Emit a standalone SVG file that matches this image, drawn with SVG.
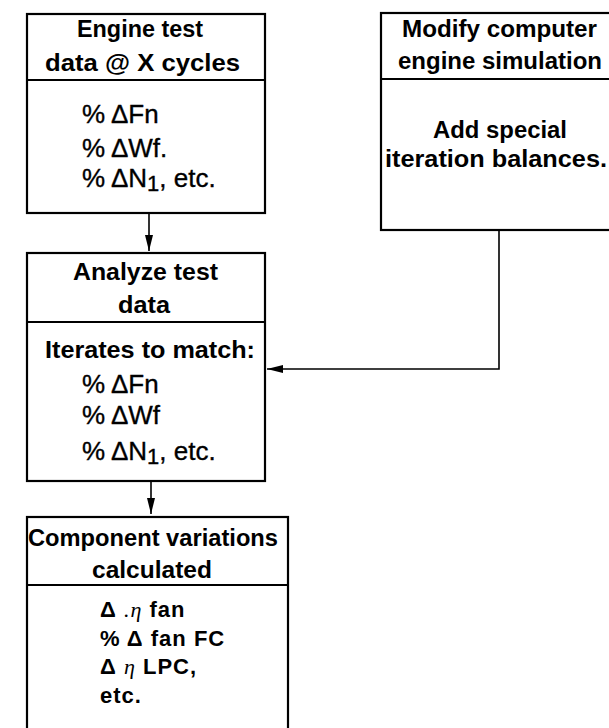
<svg xmlns="http://www.w3.org/2000/svg" width="609" height="728" viewBox="0 0 609 728">
<style>
.box{fill:#fff;stroke:#000;stroke-width:2.2}
.div{stroke:#000;stroke-width:2}
.h{font-family:"Liberation Sans",Arial,sans-serif;font-weight:bold;font-size:23px;fill:#000}
.k{font-size:22px;letter-spacing:1px}
.b{font-family:"Liberation Sans",Arial,sans-serif;font-weight:normal;font-size:26px;fill:#000;stroke:#000;stroke-width:0.35}
.s{font-size:22px}
.g{font-family:"Liberation Serif",serif;font-style:italic;font-weight:normal}
.con{fill:none;stroke:#000;stroke-width:1.6}
</style>
<defs>
<marker id="ah" viewBox="0 0 16 8" refX="16" refY="4" markerWidth="16" markerHeight="8" markerUnits="userSpaceOnUse" orient="auto">
<path d="M0,0 L16,4 L0,8 Z" fill="#000"/>
</marker>
</defs>
<rect width="609" height="728" fill="#fff"/>
<g id="connectors">
<line class="con" x1="149" y1="213" x2="149" y2="251" marker-end="url(#ah)"/>
<polyline class="con" points="499,230 499,369 267,369" marker-end="url(#ah)"/>
<line class="con" x1="151" y1="481" x2="151" y2="514" marker-end="url(#ah)"/>
</g>
<g id="engine-test">
<rect class="box" x="27" y="14" width="238" height="199"/>
<line class="div" x1="27" y1="80" x2="265" y2="80"/>
<text class="h" x="77" y="37" textLength="126" lengthAdjust="spacingAndGlyphs">Engine test</text>
<text class="h" x="45" y="71" textLength="195" lengthAdjust="spacingAndGlyphs">data @ X cycles</text>
<text class="b" x="82" y="123">% ΔFn</text>
<text class="b" x="82" y="157">% ΔWf.</text>
<text class="b" x="82" y="187">% ΔN<tspan class="s" dy="4">1</tspan><tspan dy="-4">, etc.</tspan></text>
</g>
<g id="modify-sim">
<rect class="box" x="381" y="13" width="240" height="217"/>
<line class="div" x1="381" y1="79" x2="609" y2="79"/>
<text class="h" x="402" y="37" textLength="195" lengthAdjust="spacingAndGlyphs">Modify computer</text>
<text class="h" x="398" y="69" textLength="204" lengthAdjust="spacingAndGlyphs">engine simulation</text>
<text class="h" x="433" y="138" textLength="134" lengthAdjust="spacingAndGlyphs">Add special</text>
<text class="h" x="385" y="167" textLength="222" lengthAdjust="spacingAndGlyphs">iteration balances.</text>
</g>
<g id="analyze">
<rect class="box" x="27" y="253" width="238" height="228"/>
<line class="div" x1="27" y1="322" x2="265" y2="322"/>
<text class="h" x="73" y="280" textLength="145" lengthAdjust="spacingAndGlyphs">Analyze test</text>
<text class="h" x="118" y="313" textLength="52" lengthAdjust="spacingAndGlyphs">data</text>
<text class="h" x="45" y="358" textLength="210" lengthAdjust="spacingAndGlyphs">Iterates to match:</text>
<text class="b" x="82" y="393">% ΔFn</text>
<text class="b" x="82" y="424">% ΔWf</text>
<text class="b" x="82" y="460">% ΔN<tspan class="s" dy="4">1</tspan><tspan dy="-4">, etc.</tspan></text>
</g>
<g id="component">
<rect class="box" x="27" y="517" width="261" height="230"/>
<line class="div" x1="27" y1="585" x2="288" y2="585"/>
<text class="h" x="28" y="546" textLength="250" lengthAdjust="spacingAndGlyphs">Component variations</text>
<text class="h" x="92" y="578" textLength="120" lengthAdjust="spacingAndGlyphs">calculated</text>
<text class="h k" x="100" y="617">Δ <tspan class="g">.η</tspan> fan</text>
<text class="h k" x="100" y="646">% Δ fan FC</text>
<text class="h k" x="100" y="674">Δ <tspan class="g">η</tspan> LPC,</text>
<text class="h k" x="100" y="703">etc.</text>
</g>
</svg>
